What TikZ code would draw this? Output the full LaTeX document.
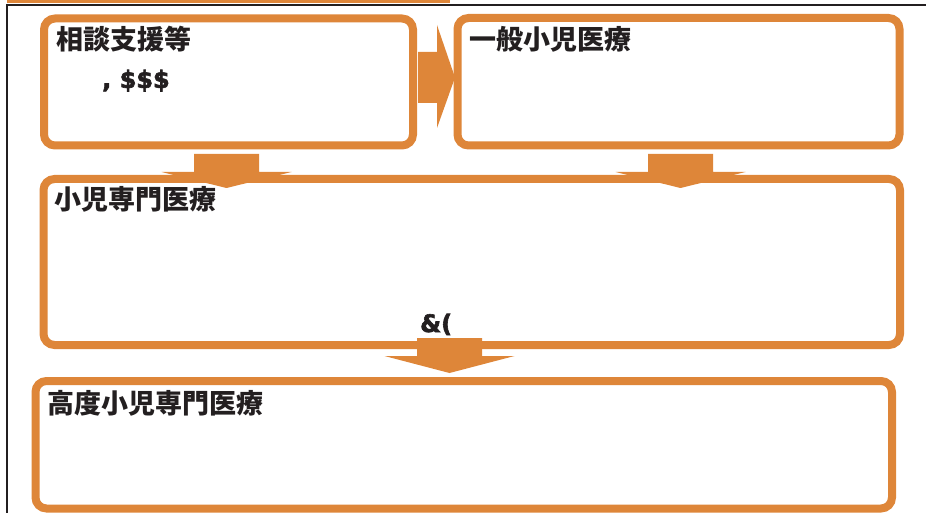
\documentclass[tikz,border=0pt]{standalone}
\usepackage{fontspec}
\newfontfamily\jp{Noto Sans CJK JP}
\newfontfamily\lat{DejaVu Sans}[BoldFeatures={FakeBold=2.5}]
\usetikzlibrary{calc}
\definecolor{org}{RGB}{222,134,57}
\definecolor{ink}{RGB}{35,31,32}
\tikzset{
  boxframe/.style={draw=org, line width=8pt, rounded corners=11pt, rectangle, inner sep=0pt, fill=white},
  jplabel/.style={anchor=base west, inner sep=0pt, text=ink, font=\jp\bfseries\fontsize{27}{30}\selectfont},
  latlabel/.style={anchor=base west, inner sep=0pt, text=ink, font=\lat\bfseries\fontsize{24}{28}\selectfont},
  blk/.style={fill=org, draw=none}
}
\newcommand\blkdn[4]{% center x, shaft top, head base, tip
  \fill[blk] ({#1-32.5},#2) -- ({#1+32.5},#2) -- ({#1+32.5},#3) -- ({#1+65},#3)
    -- (#1,#4) -- ({#1-65},#3) -- ({#1-32.5},#3) -- cycle;}
\begin{document}
\begin{tikzpicture}[x=1pt,y=-1pt]
\useasboundingbox (0,0) rectangle (926,513);
% frame
\fill[org] (7,0) rectangle (450,3);
\draw[ink, line width=2pt] (6,5) -- (926,5);
\draw[ink, line width=2.5pt] (7,4) -- (7,513);
% boxes
\node[boxframe, minimum width=369pt, minimum height=127pt] (b1) at (228.5,82) {};
\node[boxframe, minimum width=442pt, minimum height=127.5pt] (b2) at (678.5,81.75) {};
\node[boxframe, minimum width=856.5pt, minimum height=166pt] (b3) at (471.75,262) {};
\node[boxframe, minimum width=856.5pt, minimum height=127.5pt] (b4) at (463.75,444.75) {};
% block arrows
\fill[blk] (418,52) -- (437,52) -- (437,25) -- (455,77.5) -- (437,128) -- (437,103) -- (418,103) -- cycle;
\blkdn{226.5}{154}{172}{188}
\blkdn{680.5}{154}{172}{188}
\blkdn{449.5}{338}{356}{373}
% labels
\node[jplabel] (t1) at (56,50) {相談支援等};
\node[latlabel] (t1b) at (102,88) {, \$\$\$};
\node[jplabel] (t2) at (469,50) {一般小児医療};
\node[jplabel] (t3) at (54,210) {小児専門医療};
\node[latlabel] (t3b) at (420,332) {\&(};
\node[jplabel] (t4) at (47,413) {高度小児専門医療};
\end{tikzpicture}
\end{document}
